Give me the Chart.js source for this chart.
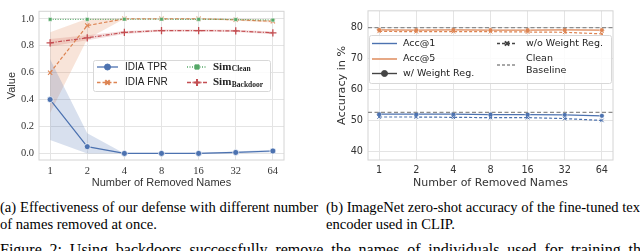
<!DOCTYPE html>
<html>
<head>
<meta charset="utf-8">
<script src="https://cdn.jsdelivr.net/npm/chart.js@4.4.1/dist/chart.umd.min.js"></script>
<style>
html, body { margin: 0; padding: 0; background: #fff; width: 640px; height: 251px; overflow: hidden; position: relative; }
canvas { position: absolute; top: 0; }
#left { left: 0; }
#right { left: 320px; }
.cap { position: absolute; font-family: "Liberation Serif", "Times New Roman", serif; font-size: 14.6px; line-height: 16px; white-space: nowrap; color: #000; }
.just { text-align: justify; text-align-last: justify; }
</style>
</head>
<body>
<canvas id="left" width="320" height="190"></canvas>
<canvas id="right" width="320" height="190"></canvas>
<div class="cap just" style="left:0;top:199.4px;width:318px">(a) Effectiveness of our defense with different number</div>
<div class="cap" style="left:0;top:215.6px">of names removed at once.</div>
<div class="cap" style="left:326px;top:199.4px">(b) ImageNet zero-shot accuracy of the fine-tuned text</div>
<div class="cap" style="left:326px;top:215.6px">encoder used in CLIP.</div>
<div class="cap just" style="left:0;top:242.2px;width:648px;font-size:16px">Figure 2: Using backdoors successfully remove the names of individuals used for training the</div>
<script>
// x categories (shared)
const removedNames = ['1', '2', '4', '8', '16', '32', '64'];

// (a) defense effectiveness
const idiaTpr = [0.40, 0.05, 0.0, 0.0, 0.0, 0.007, 0.018];
const idiaTprLow = [0.10, 0.0, 0.0, 0.0, 0.0, 0.0, 0.008];
const idiaTprHigh = [0.70, 0.15, 0.0, 0.0, 0.004, 0.014, 0.028];
const idiaFnr = [0.60, 0.95, 1.0, 1.0, 1.0, 0.993, 0.982];
const idiaFnrLow = [0.30, 0.85, 1.0, 1.0, 0.996, 0.986, 0.972];
const idiaFnrHigh = [0.90, 1.0, 1.0, 1.0, 1.0, 1.0, 0.992];
const simClean = [0.996, 0.996, 0.997, 0.997, 0.996, 0.995, 0.991];
const simBackdoor = [0.822, 0.859, 0.899, 0.913, 0.913, 0.910, 0.896];
const simBackdoorLow = [0.795, 0.840, 0.888, 0.905, 0.905, 0.902, 0.886];
const simBackdoorHigh = [0.850, 0.878, 0.910, 0.921, 0.921, 0.918, 0.906];
const valueTicks = [0.0, 0.2, 0.4, 0.6, 0.8, 1.0];

// (b) zero-shot accuracy
const acc1With = [52.0, 52.0, 52.0, 51.9, 51.9, 51.8, 51.5];
const acc1Without = [51.1, 51.1, 51.0, 50.9, 50.9, 50.6, 50.0];
const acc5With = [79.1, 79.0, 79.1, 79.0, 79.0, 79.1, 79.0];
const acc5Without = [78.6, 78.5, 78.5, 78.5, 78.4, 78.3, 77.8];
const cleanAcc1 = 52.6;
const cleanAcc5 = 79.8;
const accTicks = [40, 50, 60, 70, 80];

const BLUE = '#4c72b0', ORANGE = '#dd8452', GREEN = '#55a868', RED = '#c44e52';
const GRID = '#e4e4e4', FRAME = '#d4d4d4';
const xMin = -0.3, xMax = removedNames.length - 1 + 0.3;

const pts = arr => arr.map((v, i) => ({ x: i, y: v }));

function band(hi, lo, color) {
    return [
        { data: pts(hi), fill: '+1', backgroundColor: color, borderColor: 'transparent', borderWidth: 0, pointRadius: 0, order: 10 },
        { data: pts(lo), fill: false, borderColor: 'transparent', borderWidth: 0, pointRadius: 0, order: 10 }
    ];
}

const frame = {
    id: 'frame',
    beforeDatasetsDraw(chart) {
        const a = chart.chartArea, ctx = chart.ctx;
        ctx.save();
        ctx.strokeStyle = FRAME;
        ctx.lineWidth = 1;
        ctx.strokeRect(a.left, a.top, a.right - a.left, a.bottom - a.top);
        ctx.restore();
    }
};

function handle(ctx, x0, x1, y, color, dash, lw, marker) {
    ctx.save();
    ctx.strokeStyle = color;
    ctx.fillStyle = color;
    ctx.lineWidth = lw;
    ctx.setLineDash(dash);
    ctx.beginPath();
    ctx.moveTo(x0, y);
    ctx.lineTo(x1, y);
    ctx.stroke();
    ctx.setLineDash([]);
    if (marker) {
        ctx.lineWidth = marker.bw;
        Chart.helpers.drawPoint(ctx, { pointStyle: marker.style, radius: marker.r, borderWidth: marker.bw, rotation: 0 }, (x0 + x1) / 2, y);
    }
    ctx.restore();
}

function legendBox(ctx, x, y, w, h) {
    ctx.save();
    ctx.fillStyle = 'rgba(255,255,255,0.85)';
    ctx.strokeStyle = '#d8d8d8';
    ctx.lineWidth = 1;
    ctx.beginPath();
    ctx.roundRect(x + 0.5, y + 0.5, w, h, 2);
    ctx.fill();
    ctx.stroke();
    ctx.restore();
}

function xScale(fontFamily, fontSize) {
    return {
        type: 'linear', min: xMin, max: xMax,
        afterBuildTicks: s => { s.ticks = removedNames.map((_, i) => ({ value: i })); },
        afterFit: s => { s.height = 30; },
        ticks: { callback: v => removedNames[Math.round(v)], color: '#333', padding: 5, maxRotation: 0, font: { family: fontFamily, size: fontSize } },
        grid: { color: GRID, lineWidth: 1, drawTicks: false },
        border: { display: false },
        title: { display: true, text: 'Number of Removed Names', color: '#333', padding: { top: 0, bottom: 0.5 }, font: { family: fontFamily === 'Liberation Serif' ? 'Liberation Sans' : fontFamily, size: 11 } }
    };
}

// ---------- (a) ----------
const leftLegend = {
    id: 'leftLegend',
    afterDraw(chart) {
        const ctx = chart.ctx;
        legendBox(ctx, 93, 60, 177, 31);
        handle(ctx, 97, 118, 67, BLUE, [], 1.3, { style: 'circle', r: 3, bw: 1 });
        handle(ctx, 97, 118, 82.5, ORANGE, [3.5, 2], 1.3, { style: 'crossRot', r: 3.2, bw: 2 });
        handle(ctx, 187, 207, 67, GREEN, [1, 1.5], 1.3, { style: 'rect', r: 3, bw: 1 });
        handle(ctx, 187, 207, 82.5, RED, [4, 1.5, 1, 1.5], 1.3, { style: 'cross', r: 3.5, bw: 2 });
        ctx.save();
        ctx.fillStyle = '#222';
        ctx.textBaseline = 'middle';
        ctx.font = '10px "Liberation Sans"';
        ctx.fillText('IDIA TPR', 125, 67);
        ctx.fillText('IDIA FNR', 125, 82.5);
        const sim = (sub, y) => {
            ctx.font = 'bold 11px "Liberation Serif"';
            ctx.fillText('Sim', 213, y);
            const w = ctx.measureText('Sim').width;
            ctx.font = 'bold 7.5px "Liberation Serif"';
            ctx.fillText(sub, 213 + w + 0.5, y + 2.5);
        };
        sim('Clean', 67);
        sim('Backdoor', 82.5);
        ctx.restore();
    }
};

new Chart(document.getElementById('left'), {
    type: 'line',
    data: {
        datasets: [
            { data: pts(idiaTpr), borderColor: BLUE, backgroundColor: BLUE, borderWidth: 1.2, pointStyle: 'circle', pointRadius: 3, pointBorderColor: '#fff', pointBorderWidth: 0.7, order: 4 },
            { data: pts(idiaFnr), borderColor: ORANGE, backgroundColor: ORANGE, borderWidth: 1.2, borderDash: [3.5, 2], pointStyle: 'crossRot', pointRadius: 3, pointBorderWidth: 1.1, order: 3 },
            { data: pts(simClean), borderColor: GREEN, backgroundColor: GREEN, borderWidth: 1.2, borderDash: [1, 1.5], pointStyle: 'rect', pointRadius: 2.6, pointBorderWidth: 0.5, pointBorderColor: '#fff', order: 2 },
            { data: pts(simBackdoor), borderColor: RED, backgroundColor: RED, borderWidth: 1.2, borderDash: [4, 1.5, 1, 1.5], pointStyle: 'cross', pointRadius: 3.6, pointBorderWidth: 1.3, order: 1 },
            ...band(idiaTprHigh, idiaTprLow, 'rgba(76,114,176,0.22)'),
            ...band(idiaFnrHigh, idiaFnrLow, 'rgba(221,132,82,0.22)'),
            ...band(simBackdoorHigh, simBackdoorLow, 'rgba(196,78,82,0.2)')
        ]
    },
    options: {
        responsive: false, animation: false, devicePixelRatio: 1,
        layout: { padding: { left: 0, right: 36, top: 1, bottom: 0 } },
        plugins: { legend: { display: false }, tooltip: { enabled: false } },
        elements: { line: { tension: 0 } },
        scales: {
            x: xScale('Liberation Serif', 10.5),
            y: {
                type: 'linear', min: -0.049, max: 1.056,
                afterBuildTicks: s => { s.ticks = valueTicks.map(v => ({ value: v })); },
                afterFit: s => { s.width = 39; },
                ticks: { callback: v => v.toFixed(1), color: '#333', padding: 5, font: { family: 'Liberation Serif', size: 10.5 } },
                grid: { color: GRID, lineWidth: 1, drawTicks: false },
                border: { display: false },
                title: { display: true, text: 'Value', color: '#333', padding: { top: 5.4, bottom: 0 }, font: { family: 'Liberation Sans', size: 11 } }
            }
        }
    },
    plugins: [frame, leftLegend]
});

// ---------- (b) ----------
const rightLegend = {
    id: 'rightLegend',
    afterDraw(chart) {
        const ctx = chart.ctx;
        legendBox(ctx, 49, 35, 242, 48);
        handle(ctx, 52, 77, 43.5, BLUE, [], 1.4, null);
        handle(ctx, 52, 77, 59, ORANGE, [], 1.4, null);
        handle(ctx, 52, 77, 73.5, '#444', [], 1.4, { style: 'circle', r: 3, bw: 1 });
        handle(ctx, 177, 197, 43.5, '#444', [3, 2], 1.4, { style: 'crossRot', r: 3, bw: 2 });
        handle(ctx, 177, 197, 65, '#8c8c8c', [3, 2], 1.4, null);
        ctx.save();
        ctx.fillStyle = '#222';
        ctx.textBaseline = 'middle';
        ctx.font = '9.5px "DejaVu Sans"';
        ctx.fillText('Acc@1', 83, 43.5);
        ctx.fillText('Acc@5', 83, 59);
        ctx.fillText('w/ Weight Reg.', 83, 73.5);
        ctx.fillText('w/o Weight Reg.', 206, 43.5);
        ctx.fillText('Clean', 206, 59);
        ctx.fillText('Baseline', 206, 70.5);
        ctx.restore();
    }
};

const baseline = v => ({
    data: [{ x: xMin, y: v }, { x: xMax, y: v }],
    borderColor: '#8c8c8c', borderWidth: 1.3, borderDash: [4, 2.5], pointRadius: 0, order: 0
});

new Chart(document.getElementById('right'), {
    type: 'line',
    data: {
        datasets: [
            { data: pts(acc1With), borderColor: BLUE, backgroundColor: BLUE, borderWidth: 1.2, pointStyle: 'circle', pointRadius: 2.4, pointBorderColor: '#fff', pointBorderWidth: 0.5, order: 4 },
            { data: pts(acc1Without), borderColor: BLUE, backgroundColor: BLUE, borderWidth: 1.2, borderDash: [3, 2], pointStyle: 'crossRot', pointRadius: 2.5, pointBorderWidth: 1, order: 3 },
            { data: pts(acc5With), borderColor: ORANGE, backgroundColor: ORANGE, borderWidth: 1.2, pointStyle: 'circle', pointRadius: 2.4, pointBorderColor: '#fff', pointBorderWidth: 0.5, order: 2 },
            { data: pts(acc5Without), borderColor: ORANGE, backgroundColor: ORANGE, borderWidth: 1.2, borderDash: [3, 2], pointStyle: 'crossRot', pointRadius: 2.5, pointBorderWidth: 1, order: 1 },
            baseline(cleanAcc1),
            baseline(cleanAcc5)
        ]
    },
    options: {
        responsive: false, animation: false, devicePixelRatio: 1,
        layout: { padding: { left: 0, right: 27, top: 0, bottom: 0 } },
        plugins: { legend: { display: false }, tooltip: { enabled: false } },
        elements: { line: { tension: 0 } },
        scales: {
            x: xScale('DejaVu Sans', 9.7),
            y: {
                type: 'linear', min: 37.3, max: 85.2,
                afterBuildTicks: s => { s.ticks = accTicks.map(v => ({ value: v })); },
                afterFit: s => { s.width = 48; },
                ticks: { color: '#333', padding: 5, font: { family: 'DejaVu Sans', size: 9.7 } },
                grid: { color: GRID, lineWidth: 1, drawTicks: false },
                border: { display: false },
                title: { display: true, text: 'Accuracy in %', color: '#333', padding: { top: 15, bottom: 0 }, font: { family: 'DejaVu Sans', size: 11.2 } }
            }
        }
    },
    plugins: [frame, rightLegend]
});
</script>
</body>
</html>
